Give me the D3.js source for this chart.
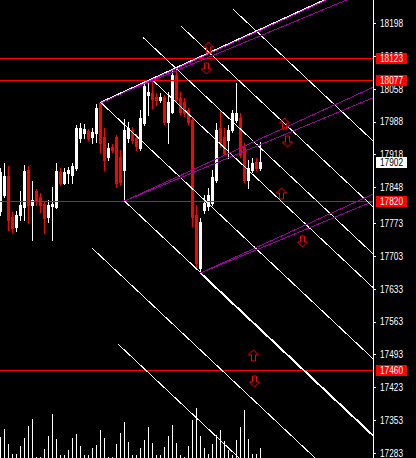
<!DOCTYPE html>
<html><head><meta charset="utf-8">
<script src="https://cdn.jsdelivr.net/npm/d3@7"></script>
<style>html,body{margin:0;padding:0;background:#000;overflow:hidden}</style>
</head><body><svg id="c" width="416" height="458"></svg>
<script>
// ---- data (bar index 0..65) ----
const opens  = [17798,17832,17872,17785,17764,17789,17806,17885,17810,17840,17827,17812,17785,17808,17806,17880,17857,17878,17874,17889,17953,17963,17968,17955,17963,18027,17955,17912,17934,17955,17912,17885,17953,17970,17953,17931,17985,18044,18048,18040,18034,18040,17987,18008,18087,18038,18029,18012,17991,17789,17676,17800,17808,17814,17863,17974,17955,17948,17970,17991,17995,17934,17863,17885,17902,17889];
const highs  = [17889,17900,17893,17796,17798,17840,17895,17893,17861,17844,17836,17817,17821,17849,17900,17889,17889,17891,17900,17980,17985,17982,17972,17974,18025,18029,17974,17942,17940,17959,17927,17993,17987,17976,17961,18012,18076,18070,18076,18048,18048,18044,18050,18097,18097,18050,18038,18016,17995,17810,17783,17832,17846,17885,17985,18012,17974,17980,18012,18070,18006,17942,17906,17910,17910,17944];
const lows   = [17789,17827,17757,17753,17755,17779,17779,17772,17736,17810,17795,17751,17774,17736,17804,17853,17855,17857,17857,17885,17944,17953,17948,17942,17944,17923,17885,17906,17923,17849,17853,17819,17944,17942,17927,17927,17980,18002,18016,18023,18029,17983,17942,18006,18029,18004,17999,17983,17766,17676,17666,17793,17800,17810,17859,17934,17917,17910,17966,17987,17912,17859,17846,17880,17885,17885];
const closes = [17880,17872,17779,17762,17789,17810,17883,17810,17821,17821,17810,17783,17810,17812,17883,17857,17880,17885,17893,17974,17974,17972,17953,17965,18016,17942,17906,17931,17927,17857,17859,17970,17974,17948,17936,17995,18063,18050,18036,18034,18040,17987,18029,18087,18034,18008,18006,17987,17785,17687,17774,17814,17832,17870,17970,17944,17921,17970,18006,18006,17917,17863,17889,17900,17889,17902];
const volumes= [21,29,14,4,4,12,20,32,39,1,1,9,22,44,19,3,3,8,20,24,12,3,3,10,13,28,20,1,1,14,25,36,16,3,3,10,18,31,15,3,3,11,22,33,15,3,1,12,38,50,22,10,4,14,23,28,17,8,3,18,31,48,19,4,4,10];

const tickLabels = [18198,18128,18058,17988,17918,17848,17773,17703,17633,17563,17493,17423,17353,17283];
const levelPrices = [18123,18077,17820,17460];
const currentPrice = 17902;

// ascending pitchfork tines: [bar, price, slope per bar, colour]
const upLines = [
  [25,18029,3.89,'#ff00ff'],[25,18029,3.53,'#a000a0'],
  [31,17819,3.89,'#a000a0'],[31,17819,3.53,'#a000a0'],
  [50,17666,3.89,'#a000a0'],[50,17666,3.53,'#a000a0']
];
const topWhite = [25,18029,3.89];
// descending parallel lines: [bar, price]
const downSlope = -8.0;
const downStarts = [[25,18029],[31,17819],[38,18076],[35.6,18167],[45.1,18191],[58.1,18227],[22.9,17719],[29.4,17515]];
const downThick = [50,17666];
// arrows: [bar, price, direction]
const arrows = [[51.9,18146,'up'],[51.4,18101,'down'],[70.9,17984,'up'],[71.6,17946,'down'],[70.1,17836,'up'],[75.4,17734,'down'],[63.1,17492,'up'],[63.4,17436,'down']];

// ---- drawing ----
const W=416,H=458,axisX=373;
const svg=d3.select('#c');
svg.append('rect').attr('width',W).attr('height',H).attr('fill','#000');
const x=d3.scaleLinear().domain([0,1]).range([0.5,4.5]);
const y=d3.scaleLinear().domain([17273,18246.2]).range([H,0]);
const yv=d3.scaleLinear().domain([0,88]).range([H,H-88]);
svg.append('defs').append('clipPath').attr('id','plot').append('rect').attr('x',0).attr('y',0).attr('width',axisX).attr('height',H);
const g=svg.append('g').attr('clip-path','url(#plot)');

// volumes
g.append('g').selectAll('rect').data(volumes).join('rect')
  .attr('x',(d,i)=>Math.floor(x(i))).attr('width',1)
  .attr('y',d=>Math.round(yv(d))).attr('height',d=>H-Math.round(yv(d)))
  .attr('fill','#fff');

// candles
const idx=d3.range(opens.length);
const cg=g.append('g').attr('shape-rendering','crispEdges');
const col=i=>closes[i]>=opens[i]?'#ffffff':'#ff0000';
cg.selectAll('rect.w').data(idx).join('rect').attr('class','w')
  .attr('x',i=>Math.floor(x(i))).attr('width',1)
  .attr('y',i=>Math.round(y(highs[i])))
  .attr('height',i=>Math.round(y(lows[i]))-Math.round(y(highs[i]))+1)
  .attr('fill',col);
cg.selectAll('rect.b').data(idx).join('rect').attr('class','b')
  .attr('x',i=>Math.floor(x(i))-1).attr('width',3)
  .attr('y',i=>Math.round(y(Math.max(opens[i],closes[i]))))
  .attr('height',i=>Math.max(1,Math.round(y(Math.min(opens[i],closes[i])))-Math.round(y(Math.max(opens[i],closes[i])))+1))
  .attr('fill',col);

// horizontal levels
g.append('g').selectAll('line').data(levelPrices).join('line')
  .attr('x1',0).attr('x2',axisX)
  .attr('y1',d=>Math.round(y(d))+0.5).attr('y2',d=>Math.round(y(d))+0.5)
  .attr('stroke','#ff0000').attr('stroke-width',1);

// trend lines
const farBar=120;
const lg=g.append('g').attr('shape-rendering','crispEdges').attr('fill','none');
downStarts.forEach(([b,p])=>{
  lg.append('line').attr('x1',x(b)).attr('y1',y(p)).attr('x2',x(farBar)).attr('y2',y(p+downSlope*(farBar-b)))
    .attr('stroke','#ffffff').attr('stroke-width',1);
});
lg.append('line').attr('x1',x(downThick[0])).attr('y1',y(downThick[1])).attr('x2',x(farBar)).attr('y2',y(downThick[1]+downSlope*(farBar-downThick[0])))
  .attr('stroke','#ffffff').attr('stroke-width',2);
upLines.forEach(([b,p,s,c])=>{
  const off=c==='#ff00ff'?1:0;
  lg.append('line').attr('x1',x(b)).attr('y1',y(p)+off).attr('x2',x(farBar)).attr('y2',y(p+s*(farBar-b))+off)
    .attr('stroke',c).attr('stroke-width',1);
});
lg.append('line').attr('x1',x(topWhite[0])).attr('y1',y(topWhite[1])).attr('x2',x(farBar)).attr('y2',y(topWhite[1]+topWhite[2]*(farBar-topWhite[0])))
  .attr('stroke','#ffffff').attr('stroke-width',1);

// arrows
const upPath='M0,-5.5L5,-0.5L2,-0.5L2,5.5L-2,5.5L-2,-0.5L-5,-0.5Z';
const dnPath='M0,5.5L5,0.5L2,0.5L2,-5.5L-2,-5.5L-2,0.5L-5,0.5Z';
g.append('g').selectAll('path').data(arrows).join('path')
  .attr('transform',d=>`translate(${Math.round(x(d[0]))+0.5},${Math.round(y(d[1]))+0.5})`)
  .attr('d',d=>d[2]==='up'?upPath:dnPath)
  .attr('fill','none').attr('stroke','#ff0000').attr('stroke-width',1);

// axis
svg.append('line').attr('x1',axisX+0.5).attr('x2',axisX+0.5).attr('y1',0).attr('y2',H).attr('stroke','#fff');
const font='"Liberation Sans Narrow","Liberation Sans",Arial,sans-serif';
const ag=svg.append('g');
tickLabels.forEach(v=>{
  const yy=Math.round(y(v))+0.5;
  ag.append('line').attr('x1',axisX).attr('x2',axisX+3).attr('y1',yy).attr('y2',yy).attr('stroke','#fff');
  ag.append('text').attr('x',380).attr('y',y(v)).attr('dy','0.36em')
    .attr('fill','#fff').attr('font-family',font).attr('font-size',11)
    .attr('textLength',23).attr('lengthAdjust','spacingAndGlyphs').text(v);
});
const tags=levelPrices.map(v=>({v,bg:'#ff0000',fg:'#ffffff'})).concat([{v:currentPrice,bg:'#ffffff',fg:'#000000'}]);
tags.forEach(t=>{
  const yc=Math.round(y(t.v));
  ag.append('rect').attr('x',376).attr('y',yc-5).attr('width',31).attr('height',11).attr('fill',t.bg);
  ag.append('text').attr('x',380).attr('y',yc+0.5).attr('dy','0.36em')
    .attr('fill',t.fg).attr('font-family',font).attr('font-size',11)
    .attr('textLength',23).attr('lengthAdjust','spacingAndGlyphs').text(t.v);
});
</script></body></html>
